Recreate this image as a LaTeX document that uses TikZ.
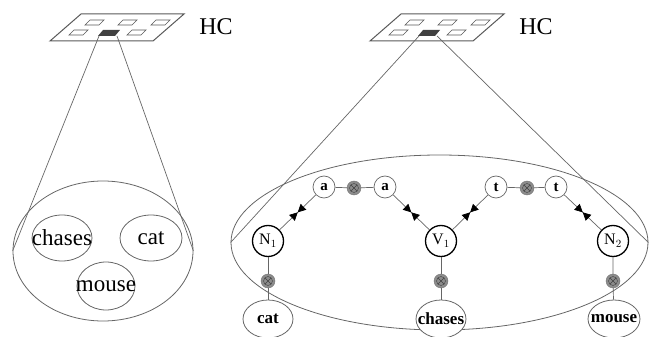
\documentclass[tikz,border=0pt]{standalone}
\usepackage{fontspec}
\setmainfont{Liberation Serif}
\usetikzlibrary{shapes.geometric, arrows.meta, positioning, calc, decorations.markings}

\begin{document}
\begin{tikzpicture}[x=1pt, y=-1pt,
    link/.style={draw=black!60, line width=0.7pt},
    scope/.style={ellipse, draw=black!60, line width=0.8pt, inner sep=0pt},
    bigword/.style={scope, label={[font=\fontsize{23}{23}\selectfont]center:#1}},
    word/.style={scope, fill=white, minimum width=50pt, minimum height=38pt,
        label={[font=\fontsize{17}{17}\selectfont\bfseries]center:#1}},
    role/.style={circle, draw=black, line width=1.3pt, fill=white, minimum size=31pt, inner sep=0pt,
        font=\fontsize{16}{16}\selectfont},
    filler/.style={circle, draw=black!60, line width=0.7pt, fill=white, minimum size=22pt, inner sep=0pt,
        font=\fontsize{15}{15}\selectfont\bfseries},
    prod/.style={circle, fill=black!45, draw=black!55, minimum size=14pt, inner sep=0pt,
        path picture={\draw[black!75, line width=0.4pt] (path picture bounding box.center) circle (4.5pt)
            +(45:4.5pt) -- +(225:4.5pt) +(135:4.5pt) -- +(315:4.5pt);}},
    bond/.style={link, postaction={decorate}, decoration={markings,
        mark=at position 0.5 with {\arrow[black]{Triangle[length=8pt,width=8pt]}},
        mark=at position 0.5 with {\arrowreversed[black]{Triangle[length=8pt,width=8pt]}}}}
]
\useasboundingbox (0,0) rectangle (649,337);

% HC plates
\foreach \dx in {0,320} {
    \draw[black!65, line width=1pt] (50+\dx,41) -- (153+\dx,41) -- (184+\dx,14) -- (81+\dx,14) -- cycle;
    \foreach \sx/\sy in {85/25,118/25,151/25,69/35,127/35} {
        \draw[black!65, line width=0.7pt] (\sx+\dx,\sy) -- ++(14,0) -- ++(5,-5) -- ++(-14,0) -- cycle;
    }
    \fill[black!75] (98+\dx,36) -- ++(17,0) -- ++(5,-6) -- ++(-17,0) -- cycle;
}
\node[font=\fontsize{24}{24}\selectfont] (hcL) at (216,27) {HC};
\node[font=\fontsize{24}{24}\selectfont] (hcR) at (536,27) {HC};
\coordinate (footLa) at (99,36);
\coordinate (footLb) at (117,36);
\coordinate (footRa) at (419,36);
\coordinate (footRb) at (437,36);

% Left panel: bag of words
\node[scope, minimum width=180pt, minimum height=140pt] (lscope) at (103,251) {};
\draw[link] (footLa) -- (lscope.west);
\draw[link] (footLb) -- (lscope.east);
\node[bigword=chases, minimum width=60pt, minimum height=46pt] (lchases) at (62,238) {};
\node[bigword=cat, minimum width=62pt, minimum height=46pt] (lcat) at (151,238) {};
\node[bigword=mouse, minimum width=58pt, minimum height=48pt] (lmouse) at (106,286) {};

% Right panel: role-filler structure
\node[scope, minimum width=417pt, minimum height=175pt] (rscope) at (439.5,242.5) {};
\draw[link] (footRa) -- (rscope.west);
\draw[link] (footRb) -- (rscope.east);

\node[role] (n1) at (268,241) {N$_1$};
\node[role] (v1) at (441,241) {V$_1$};
\node[role] (n2) at (613,241) {N$_2$};

\node[filler] (a1) at (324,187) {a};
\node[prod] (pa) at (354,188) {};
\node[filler] (a2) at (385,187) {a};
\node[filler] (t1) at (496,187) {t};
\node[prod] (pt) at (527,188) {};
\node[filler] (t2) at (556,187) {t};

\node[prod] (pn1) at (268,281) {};
\node[prod] (pv1) at (441,281) {};
\node[prod] (pn2) at (613,281) {};

\node[word=cat] (cat) at (268,319) {};
\node[word=chases] (chases) at (441,319) {};
\node[word=mouse, minimum width=52pt] (mouse) at (614,319) {};

% Connectors
\draw[link] (a1) -- (pa) -- (a2);
\draw[link] (t1) -- (pt) -- (t2);
\draw[bond] (n1) -- (a1);
\draw[bond] (a2) -- (v1);
\draw[bond] (v1) -- (t1);
\draw[bond] (t2) -- (n2);
\draw[link] (n1) -- (pn1) -- (cat);
\draw[link] (v1) -- (pv1) -- (chases);
\draw[link] (n2) -- (pn2) -- (mouse);
\end{tikzpicture}
\end{document}
